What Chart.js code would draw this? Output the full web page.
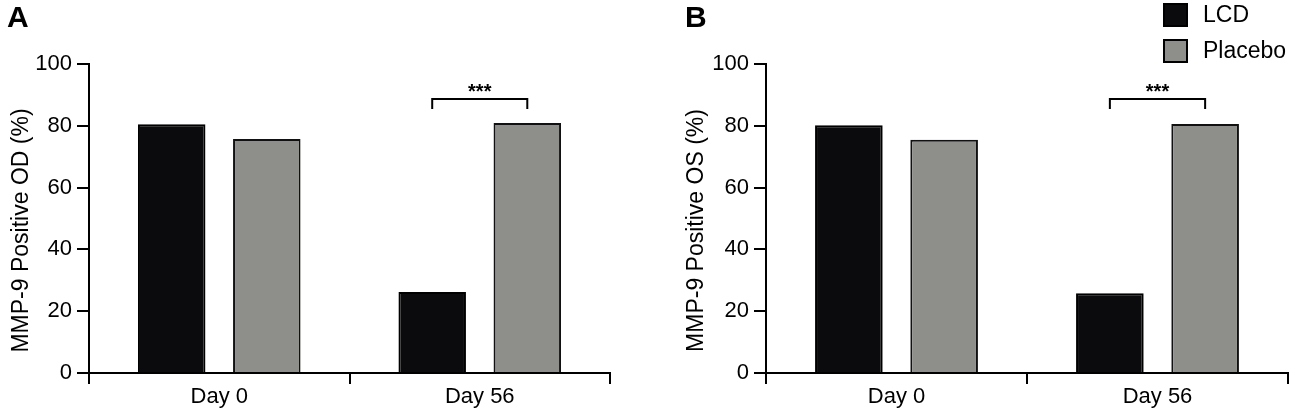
<!DOCTYPE html>
<html>
<head>
<meta charset="utf-8">
<script src="https://cdn.jsdelivr.net/npm/chart.js@4.4.1/dist/chart.umd.min.js"></script>
<style>
  html, body { margin: 0; padding: 0; background: #fff; }
  #wrap { position: relative; width: 1292px; height: 416px; }
  .panel { position: absolute; top: 0; height: 416px; }
  #panelA { left: 0; width: 640px; }
  #panelB { left: 680px; width: 612px; }
</style>
</head>
<body>
<div id="wrap">
  <div class="panel" id="panelA"><canvas id="chartA"></canvas></div>
  <div class="panel" id="panelB"><canvas id="chartB"></canvas></div>
</div>
<script>
// Data (percent of eyes MMP-9 positive).
const categories = ["Day 0", "Day 56"];
const seriesNames = ["LCD", "Placebo"];
const lcdOD = [80.5, 26.2];
const placeboOD = [75.7, 80.9];
const lcdOS = [80.2, 25.8];
const placeboOS = [75.5, 80.6];
const yTicks = [0, 20, 40, 60, 80, 100];

// Significance bracket over the Day 56 bars.
const bracketTop = 88.7;
const bracketFoot = 85.4;
const bracketLabel = "***";

const FONT = "'Liberation Sans', Arial, Helvetica, sans-serif";
const lcdColor = "#0b0b0d";
const placeboColor = "#8e8f8a";

Chart.defaults.font.family = FONT;
Chart.defaults.color = "#000";

// Draws panel letter, axis title, bracket and (optionally) the legend.
const panelDecor = {
  id: "panelDecor",
  afterDraw(chart, args, opts) {
    const ctx = chart.ctx;
    const area = chart.chartArea;
    const y = chart.scales.y;
    ctx.save();
    ctx.fillStyle = "#000";

    // panel letter
    ctx.font = "bold 30px " + FONT;
    ctx.textAlign = "left";
    ctx.textBaseline = "alphabetic";
    ctx.fillText(opts.letter, opts.letterX, 27);

    // y axis title
    ctx.save();
    ctx.translate(opts.titleX, (area.top + area.bottom) / 2 + 12);
    ctx.rotate(-Math.PI / 2);
    ctx.font = "23px " + FONT;
    ctx.textAlign = "center";
    ctx.textBaseline = "middle";
    ctx.fillText(opts.title, 0, 0);
    ctx.restore();

    // bracket between the Day 56 bars
    const a = chart.getDatasetMeta(0).data[1];
    const b = chart.getDatasetMeta(1).data[1];
    const top = y.getPixelForValue(bracketTop);
    const foot = y.getPixelForValue(bracketFoot);
    ctx.strokeStyle = "#000";
    ctx.lineWidth = 2;
    ctx.beginPath();
    ctx.moveTo(a.x, foot);
    ctx.lineTo(a.x, top);
    ctx.lineTo(b.x, top);
    ctx.lineTo(b.x, foot);
    ctx.stroke();
    ctx.font = "bold 20px " + FONT;
    ctx.textAlign = "center";
    ctx.textBaseline = "alphabetic";
    ctx.fillText(bracketLabel, (a.x + b.x) / 2, top - 1);

    // legend
    if (opts.legend) {
      const lg = opts.legend;
      chart.data.datasets.forEach((ds, i) => {
        const by = lg.y + i * lg.step;
        ctx.fillStyle = ds.backgroundColor;
        ctx.fillRect(lg.x, by, lg.box, lg.box - 1);
        ctx.strokeStyle = "#000";
        ctx.lineWidth = 2;
        ctx.strokeRect(lg.x + 1, by + 1, lg.box - 2, lg.box - 3);
        ctx.fillStyle = "#000";
        ctx.font = "23px " + FONT;
        ctx.textAlign = "left";
        ctx.textBaseline = "middle";
        ctx.fillText(ds.label, lg.textX, by + lg.box / 2);
      });
    }
    ctx.restore();
  }
};

function makeChart(canvasId, lcdValues, placeboValues, cfg) {
  return new Chart(document.getElementById(canvasId), {
    type: "bar",
    data: {
      labels: categories,
      datasets: [
        {
          label: seriesNames[0],
          data: lcdValues,
          backgroundColor: lcdColor,
          borderColor: "#000",
          borderWidth: 2
        },
        {
          label: seriesNames[1],
          data: placeboValues,
          backgroundColor: placeboColor,
          borderColor: "#111",
          borderWidth: 2
        }
      ]
    },
    options: {
      responsive: true,
      maintainAspectRatio: false,
      animation: false,
      categoryPercentage: 0.73,
      barPercentage: 0.71,
      layout: { padding: { left: 0, right: cfg.padRight, top: 64, bottom: 0 } },
      plugins: {
        legend: { display: false },
        tooltip: { enabled: false },
        panelDecor: cfg.decor
      },
      scales: {
        x: {
          z: 1,
          border: { display: true, color: "#000", width: 2 },
          grid: { display: true, drawOnChartArea: false, drawTicks: true, tickLength: 11, color: "#000", lineWidth: 2 },
          ticks: { color: "#000", font: { size: 22 }, padding: 0 },
          afterFit(scale) { scale.height = 43; }
        },
        y: {
          z: 1,
          min: yTicks[0],
          max: yTicks[yTicks.length - 1],
          afterBuildTicks(scale) { scale.ticks = yTicks.map(v => ({ value: v })); },
          border: { display: true, color: "#000", width: 2 },
          grid: { display: true, drawOnChartArea: false, drawTicks: true, tickLength: 12, color: "#000", lineWidth: 2 },
          ticks: { color: "#000", font: { size: 22 }, padding: 5 },
          afterFit(scale) { scale.width = cfg.yWidth; }
        }
      }
    },
    plugins: [panelDecor]
  });
}

makeChart("chartA", lcdOD, placeboOD, {
  yWidth: 89,
  padRight: 30,
  decor: { letter: "A", letterX: 7, title: "MMP-9 Positive OD (%)", titleX: 22 }
});

makeChart("chartB", lcdOS, placeboOS, {
  yWidth: 86,
  padRight: 4,
  decor: {
    letter: "B", letterX: 5, title: "MMP-9 Positive OS (%)", titleX: 17,
    legend: { x: 483, y: 3, box: 25, step: 36, textX: 523 }
  }
});
</script>
</body>
</html>
